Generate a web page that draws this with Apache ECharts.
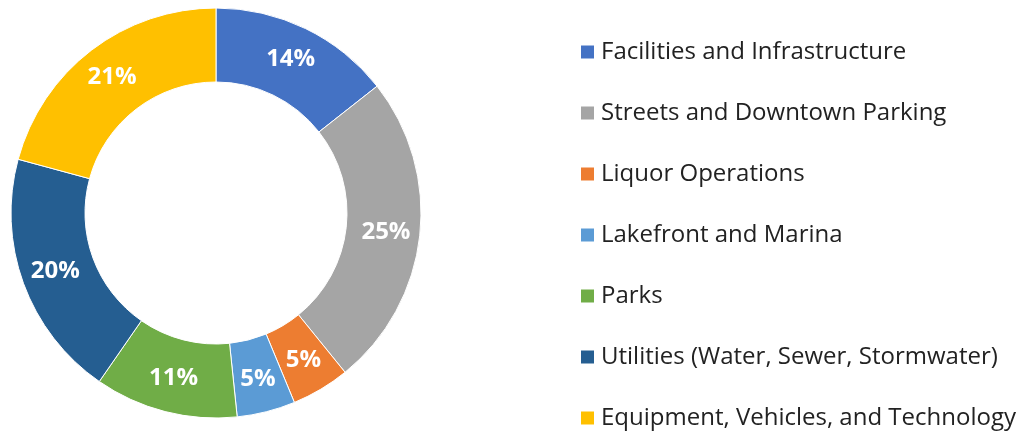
<!DOCTYPE html>
<html>
<head>
<meta charset="utf-8">
<script src="https://cdn.jsdelivr.net/npm/echarts@6/dist/echarts.min.js"></script>
<style>
html, body { margin: 0; padding: 0; background: #fff; }
#main { width: 1020px; height: 434px; }
</style>
</head>
<body>
<div id="main"></div>
<script>
// categories and shares
var categories = ['Facilities and Infrastructure', 'Streets and Downtown Parking', 'Liquor Operations',
	'Lakefront and Marina', 'Parks', 'Utilities (Water, Sewer, Stormwater)', 'Equipment, Vehicles, and Technology'];
var values = [14.4, 24.8, 4.6, 4.6, 11.3, 19.6, 20.8];
var colors = ['#4472C4', '#A5A5A5', '#ED7D31', '#5B9BD5', '#70AD47', '#255E91', '#FFC000'];

var pieData = [];
for (var i = 0; i < categories.length; i++) {
	pieData.push({ name: categories[i], value: values[i], itemStyle: { color: colors[i] } });
}

var myChart = echarts.init(document.getElementById('main'));

var option = {
	animation: false,
	legend: {
		orient: 'vertical',
		left: 579,
		top: 40,
		height: 420,
		padding: 0,
		itemWidth: 15,
		itemHeight: 15,
		itemGap: 37,
		icon: 'rect',
		textStyle: {
			fontFamily: 'Open Sans',
			fontSize: 24,
			lineHeight: 24,
			color: '#222',
			padding: [0, 0, 0, 1]
		},
		data: categories
	},
	series: [{
		type: 'pie',
		center: [216, 213],
		radius: [131, 205],
		startAngle: 90,
		clockwise: true,
		avoidLabelOverlap: false,
		itemStyle: { borderColor: '#fff', borderWidth: 1 },
		label: {
			show: true,
			position: 'inside',
			color: '#fff',
			fontFamily: 'Open Sans',
			fontWeight: 'bold',
			fontSize: 24,
			formatter: function (p) { return Math.round(p.percent) + '%'; }
		},
		labelLine: { show: false },
		emphasis: { disabled: true },
		data: pieData
	}]
};

myChart.setOption(option);
</script>
</body>
</html>
